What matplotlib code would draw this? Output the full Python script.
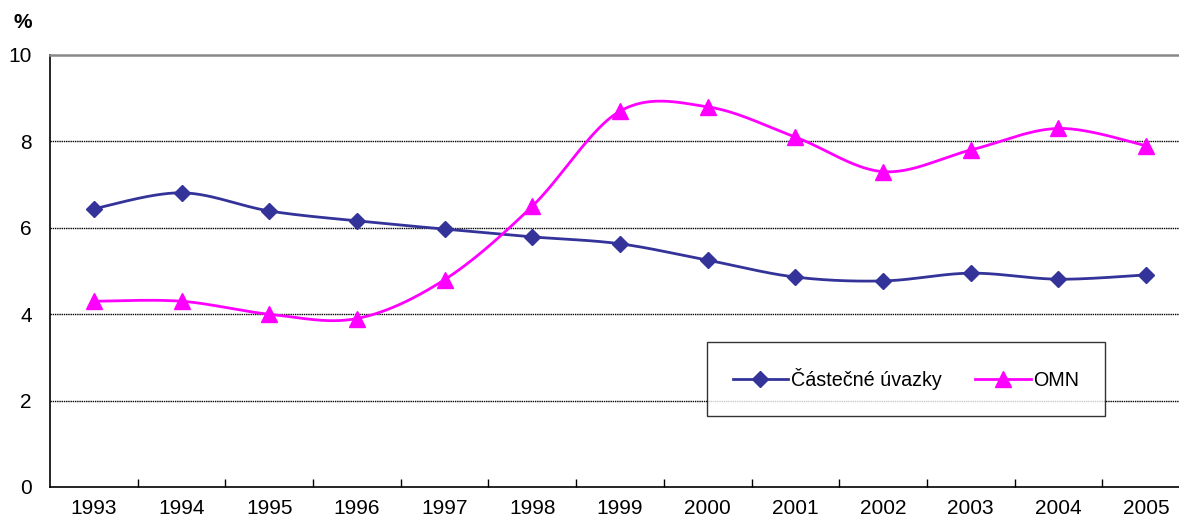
import numpy as np
import matplotlib
matplotlib.use("Agg")
import matplotlib.pyplot as plt

plt.rcParams['font.family'] = ['Liberation Sans', 'DejaVu Sans']

years = ['1993', '1994', '1995', '1996', '1997', '1998', '1999',
         '2000', '2001', '2002', '2003', '2004', '2005']
castecne = [6.44, 6.81, 6.39, 6.16, 5.97, 5.79, 5.63, 5.25, 4.86, 4.77, 4.95, 4.81, 4.91]
omn = [4.3, 4.3, 4.0, 3.9, 4.8, 6.5, 8.7, 8.8, 8.1, 7.3, 7.8, 8.3, 7.9]


def smooth(y, n=30):
    # Excel-like smoothing (Catmull-Rom bezier)
    x = np.arange(len(y), dtype=float)
    y = np.asarray(y, dtype=float)
    px = np.concatenate([[x[0]], x, [x[-1]]])
    py = np.concatenate([[y[0]], y, [y[-1]]])
    xs, ys = [], []
    for i in range(len(y) - 1):
        p0 = np.array([px[i], py[i]])
        p1 = np.array([px[i + 1], py[i + 1]])
        p2 = np.array([px[i + 2], py[i + 2]])
        p3 = np.array([px[i + 3], py[i + 3]])
        c1 = p1 + (p2 - p0) / 6
        c2 = p2 - (p3 - p1) / 6
        t = np.linspace(0, 1, n)[:, None]
        b = ((1 - t) ** 3) * p1 + 3 * ((1 - t) ** 2) * t * c1 + 3 * (1 - t) * t ** 2 * c2 + t ** 3 * p2
        xs.extend(b[:, 0])
        ys.extend(b[:, 1])
    return np.array(xs), np.array(ys)


fig = plt.figure(figsize=(11.79, 5.19), dpi=100)
ax = fig.add_axes([50 / 1179, 32 / 519, 1140 / 1179, 432 / 519])

blue = '#333399'
pink = '#FF00FF'
x = np.arange(len(years))

sx, sy = smooth(castecne)
ax.plot(sx, sy, color=blue, lw=2.0, zorder=3)
ax.plot(x, castecne, ls='none', marker='D', ms=8.5, color=blue, zorder=4)
sx, sy = smooth(omn)
ax.plot(sx, sy, color=pink, lw=2.0, zorder=3)
ax.plot(x, omn, ls='none', marker='^', ms=11.5, color=pink, zorder=4)

# legend proxies
ax.plot([], [], color=blue, lw=2.0, marker='D', ms=8.5, label='Částečné úvazky')
ax.plot([], [], color=pink, lw=2.0, marker='^', ms=11.5, label='OMN')

ax.set_xlim(-0.5, len(years) - 0.5)
ax.set_ylim(0, 10)
ax.set_yticks([0, 2, 4, 6, 8, 10])
ax.set_yticklabels(['0', '2', '4', '6', '8', '10'], fontsize=15)
for yv in [2, 4, 6, 8]:
    ax.axhline(yv, color='black', lw=1.0, ls=(0, (1, 0.6)), zorder=1)

ax.set_xticks(x)
ax.set_xticklabels(years, fontsize=15)
ax.tick_params(axis='x', which='major', length=0, pad=9)
ax.set_xticks(np.arange(0.5, len(years) - 1, 1), minor=True)
ax.tick_params(axis='x', which='minor', direction='in', length=6, width=1, color='black')
ax.tick_params(axis='y', length=0, pad=13)

for s in ['left', 'bottom']:
    ax.spines[s].set_color('black')
    ax.spines[s].set_linewidth(1.2)
ax.spines['top'].set_color('#888888')
ax.spines['top'].set_linewidth(1.8)
ax.spines['right'].set_visible(False)

leg = ax.legend(loc='center', bbox_to_anchor=(0.751, 0.25), ncol=2, fontsize=14.2,
                frameon=True, fancybox=False, edgecolor='black', borderpad=1.3,
                handlelength=2.8, columnspacing=1.7, handletextpad=0.15, borderaxespad=0)
leg.get_frame().set_linewidth(1.0)

fig.text(13 / 1179, 1 - 23 / 519, '%', fontsize=15, fontweight='bold', ha='left', va='center')

fig.savefig('out.png', dpi=100)
